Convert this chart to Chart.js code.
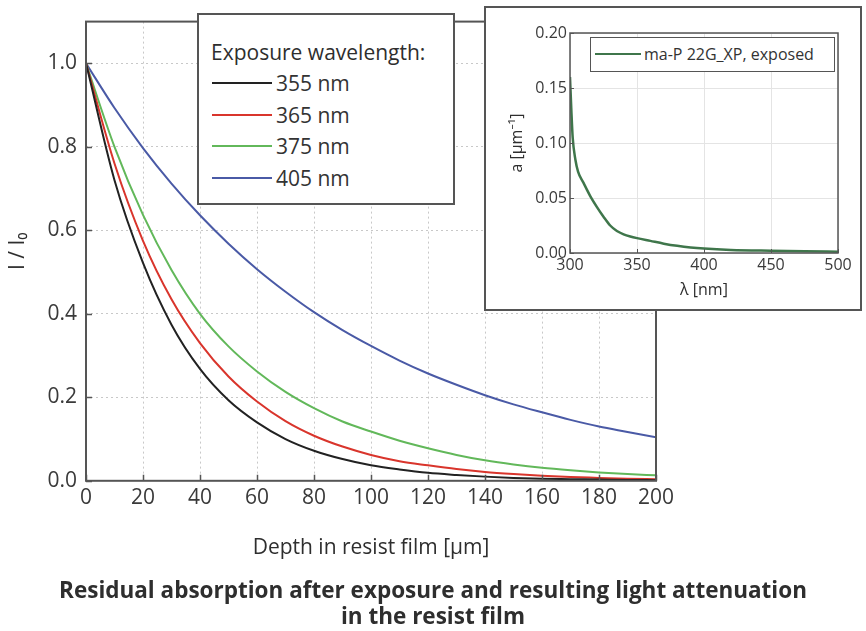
<!DOCTYPE html>
<html>
<head>
<meta charset="utf-8">
<title>Residual absorption and light attenuation</title>
<script src="https://cdn.jsdelivr.net/npm/chart.js@4.4.0/dist/chart.umd.min.js"></script>
<style>
  html, body { margin: 0; padding: 0; background: #fff; }
  #wrap { position: relative; width: 866px; height: 631px; overflow: hidden;
          font-family: 'Open Sans', 'Noto Sans', sans-serif; color: #333; }
  #main { position: absolute; left: 0; top: 0; }
  .box { position: absolute; box-sizing: border-box; background: #fff; }
  #legend { left: 197px; top: 13px; width: 258px; height: 192px; border: 2px solid #555; }
  #inset { left: 484px; top: 6px; width: 378px; height: 305px; border: 2px solid #555; }
  #insetCanvas { position: absolute; left: 0; top: 0; }
  #insetLegend { left: 104px; top: 29px; width: 245px; height: 35px; border: 1.5px solid #555; }
  .row { position: absolute; white-space: nowrap; display: flex; align-items: center; }
  .swatch { display: inline-block; height: 0; }
</style>
</head>
<body>
<div id="wrap">
  <canvas id="main" width="866" height="631"></canvas>
  <div id="legend" class="box"></div>
  <div id="inset" class="box">
    <canvas id="insetCanvas" width="374" height="301"></canvas>
    <div id="insetLegend" class="box"></div>
  </div>
</div>
<script>
// ---- Light attenuation in the resist film (I / I0 versus depth) ----
const depthUm = [0, 10, 20, 30, 40, 50, 60, 70, 80, 90, 100,
                 110, 120, 130, 140, 150, 160, 170, 180, 190, 200];
const att355 = [1.0, 0.72, 0.522, 0.374, 0.268, 0.193, 0.140, 0.100, 0.072, 0.052, 0.037,
                0.027, 0.019, 0.014, 0.010, 0.007, 0.005, 0.004, 0.003, 0.002, 0.0015];
const att365 = [1.0, 0.76, 0.575, 0.435, 0.33, 0.25, 0.19, 0.143, 0.108, 0.082, 0.062,
                0.047, 0.037, 0.028, 0.021, 0.016, 0.012, 0.009, 0.007, 0.005, 0.004];
const att375 = [1.0, 0.80, 0.637, 0.505, 0.40, 0.322, 0.262, 0.213, 0.174, 0.142, 0.118,
                0.096, 0.078, 0.062, 0.049, 0.039, 0.031, 0.025, 0.020, 0.016, 0.013];
const att405 = [1.0, 0.893, 0.797, 0.712, 0.636, 0.568, 0.507, 0.453, 0.404, 0.361, 0.323,
                0.288, 0.257, 0.23, 0.205, 0.183, 0.164, 0.146, 0.13, 0.117, 0.104];
const seriesLabels = ['355 nm', '365 nm', '375 nm', '405 nm'];
const seriesColors = ['#222222', '#d9352c', '#62b85a', '#4a5aa6'];
const depthTicks = { min: 0, max: 200, step: 20 };
const intensityTicks = { min: 0, max: 1.1, step: 0.2 };

// ---- Absorption coefficient of the exposed resist (inset) ----
const lambdaNm = [300, 301, 302, 304, 306, 310, 315, 320, 325, 330, 335, 340, 345, 350,
                  360, 370, 380, 390, 400, 420, 450, 475, 500];
const absorption = [0.16, 0.13, 0.105, 0.085, 0.074, 0.064, 0.052, 0.042, 0.033, 0.025,
                    0.020, 0.017, 0.015, 0.0135, 0.011, 0.0085, 0.0065, 0.005, 0.004,
                    0.0028, 0.002, 0.0015, 0.0012];
const insetLabel = 'ma-P 22G_XP, exposed';
const lambdaTicks = { min: 300, max: 500, step: 50 };
const absorptionTicks = { min: 0, max: 0.2, step: 0.05 };

const FONT = "'Open Sans', 'Noto Sans', sans-serif";
const TEXT = '#3a3a3a';
const DARK = '#2e2e2e';

const toPoints = (xs, ys) => xs.map((x, i) => ({ x, y: ys[i] }));

// Frame around the plot area plus short inward tick marks on left/bottom axes
const framePlugin = {
  id: 'frame',
  afterDraw(chart, args, opts) {
    const { ctx, chartArea: a, scales } = chart;
    ctx.save();
    ctx.strokeStyle = opts.color;
    ctx.lineWidth = opts.tickWidth;
    ctx.beginPath();
    scales.x.ticks.forEach(t => {
      const px = Math.round(scales.x.getPixelForValue(t.value)) + 0.5;
      ctx.moveTo(px, a.bottom); ctx.lineTo(px, a.bottom - opts.tick);
    });
    scales.y.ticks.forEach(t => {
      const py = Math.round(scales.y.getPixelForValue(t.value)) + 0.5;
      ctx.moveTo(a.left, py); ctx.lineTo(a.left + opts.tick, py);
    });
    ctx.stroke();
    ctx.lineWidth = opts.width;
    ctx.strokeRect(a.left, a.top, a.right - a.left, a.bottom - a.top);
    ctx.restore();
  }
};

const mainChart = new Chart(document.getElementById('main'), {
  type: 'line',
  data: {
    datasets: [att355, att365, att375, att405].map((vals, i) => ({
      label: seriesLabels[i],
      data: toPoints(depthUm, vals),
      borderColor: seriesColors[i],
      borderWidth: 2,
      pointRadius: 0,
      cubicInterpolationMode: 'monotone',
      fill: false
    }))
  },
  options: {
    responsive: false,
    animation: false,
    devicePixelRatio: 1,
    layout: { padding: { left: 0, right: 0, top: 17, bottom: 0 } },
    plugins: {
      legend: { display: false },
      tooltip: { enabled: false },
      title: {
        display: true,
        position: 'bottom',
        text: ['Residual absorption after exposure and resulting light attenuation',
               'in the resist film'],
        color: DARK,
        font: { family: FONT, size: 22.5, weight: 'bold', lineHeight: 1.16 },
        padding: { top: 0, bottom: 0 }
      },
      frame: { color: '#555', width: 2, tick: 6, tickWidth: 1.5 }
    },
    scales: {
      x: {
        type: 'linear',
        min: depthTicks.min, max: depthTicks.max,
        afterFit(s) { s.height = 98; },
        ticks: { stepSize: depthTicks.step, color: TEXT, padding: 5,
                 font: { family: FONT, size: 21 }, maxRotation: 0 },
        grid: { color: '#c8c8c8', lineWidth: 1, drawTicks: false },
        border: { display: false, dash: [2, 3] },
        title: { display: true, text: 'Depth in resist film [µm]', color: DARK,
                 font: { family: FONT, size: 21 }, padding: { top: 0, bottom: 18 } }
      },
      y: {
        type: 'linear',
        min: intensityTicks.min, max: intensityTicks.max,
        afterFit(s) { s.width = 86; },
        ticks: { stepSize: intensityTicks.step, includeBounds: false, color: TEXT, padding: 9,
                 font: { family: FONT, size: 21 },
                 callback: v => v.toFixed(1) },
        grid: { color: '#c8c8c8', lineWidth: 1, drawTicks: false },
        border: { display: false, dash: [2, 3] },
        title: { display: true, text: 'I / I₀', color: DARK,
                 font: { family: FONT, size: 21 }, padding: { top: 5, bottom: 0 } }
      },
      // empty right-hand strip that leaves room for the inset plot
      side: {
        type: 'linear', position: 'right', min: 0, max: 1,
        afterFit(s) { s.width = 210; },
        ticks: { display: false },
        grid: { display: false, drawTicks: false },
        border: { display: false }
      }
    }
  },
  plugins: [framePlugin]
});

const insetChart = new Chart(document.getElementById('insetCanvas'), {
  type: 'line',
  data: {
    datasets: [{
      label: insetLabel,
      data: toPoints(lambdaNm, absorption),
      borderColor: '#3f764b',
      borderWidth: 2.5,
      pointRadius: 0,
      cubicInterpolationMode: 'monotone',
      fill: false
    }]
  },
  options: {
    responsive: false,
    animation: false,
    devicePixelRatio: 1,
    layout: { padding: { left: 0, right: 22, top: 25, bottom: 0 } },
    plugins: {
      legend: { display: false },
      tooltip: { enabled: false },
      frame: { color: '#555', width: 1.5, tick: 4, tickWidth: 1 }
    },
    scales: {
      x: {
        type: 'linear',
        min: lambdaTicks.min, max: lambdaTicks.max,
        afterFit(s) { s.height = 56; },
        ticks: { stepSize: lambdaTicks.step, color: TEXT, padding: 3,
                 font: { family: FONT, size: 16 }, maxRotation: 0 },
        grid: { color: '#e4e4e4', lineWidth: 1, drawTicks: false },
        border: { display: false },
        title: { display: true, text: 'λ [nm]', color: DARK,
                 font: { family: FONT, size: 16 }, padding: { top: 0, bottom: 9 } }
      },
      y: {
        type: 'linear',
        min: absorptionTicks.min, max: absorptionTicks.max,
        afterFit(s) { s.width = 84; },
        ticks: { stepSize: absorptionTicks.step, color: TEXT, padding: 3,
                 font: { family: FONT, size: 16 },
                 callback: v => v.toFixed(2) },
        grid: { color: '#e4e4e4', lineWidth: 1, drawTicks: false },
        border: { display: false },
        title: { display: true, text: 'a [µm⁻¹]', color: DARK,
                 font: { family: FONT, size: 16 }, padding: { top: 22, bottom: 0 } }
      }
    }
  },
  plugins: [framePlugin]
});

// HTML legend for the main chart, built from its datasets
(function buildLegend() {
  const box = document.getElementById('legend');
  const title = document.createElement('div');
  title.className = 'row';
  title.style.cssText = `left:12px;top:24px;height:26px;font-size:21px;color:${DARK};`;
  title.textContent = 'Exposure wavelength:';
  box.appendChild(title);
  mainChart.data.datasets.forEach((ds, i) => {
    const row = document.createElement('div');
    row.className = 'row';
    row.style.cssText = `left:13px;top:${55 + i * 31.7}px;height:26px;font-size:21px;color:#333;`;
    const sw = document.createElement('span');
    sw.className = 'swatch';
    sw.style.cssText = `width:60px;border-top:2px solid ${ds.borderColor};margin-right:4px;`;
    const txt = document.createElement('span');
    txt.textContent = ds.label;
    row.appendChild(sw); row.appendChild(txt);
    box.appendChild(row);
  });
})();

// HTML legend for the inset
(function buildInsetLegend() {
  const box = document.getElementById('insetLegend');
  const ds = insetChart.data.datasets[0];
  const row = document.createElement('div');
  row.className = 'row';
  row.style.cssText = 'left:4px;top:5px;height:22px;font-size:16px;color:#333;';
  const sw = document.createElement('span');
  sw.className = 'swatch';
  sw.style.cssText = `width:46px;border-top:2.5px solid ${ds.borderColor};margin-right:3px;`;
  const txt = document.createElement('span');
  txt.textContent = ds.label;
  row.appendChild(sw); row.appendChild(txt);
  box.appendChild(row);
})();
</script>
</body>
</html>
